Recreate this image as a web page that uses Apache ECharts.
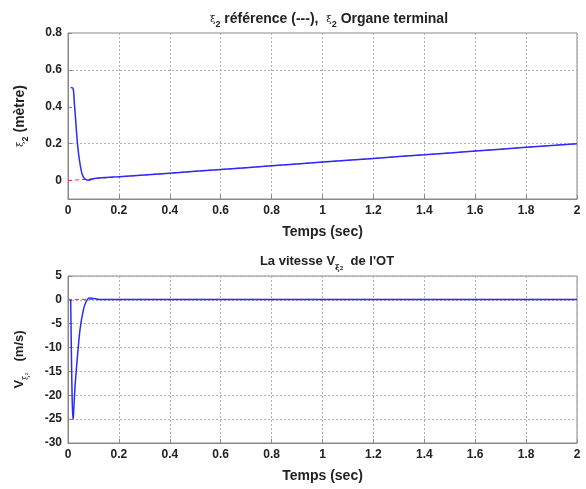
<!DOCTYPE html>
<html>
<head>
<meta charset="utf-8">
<script src="https://cdn.jsdelivr.net/npm/echarts@6/dist/echarts.min.js"></script>
<style>
  html, body { margin: 0; padding: 0; background: #fff; }
  #chart { width: 586px; height: 489px; }
</style>
</head>
<body>
<div id="chart"></div>
<script>
// position xi2 : reference (dashed red) and end effector (blue)
var posRef = [[0, 0], [2, 0.2]]
var posOT = [
  [0.0106, 0.505], [0.02, 0.50], [0.025, 0.42], [0.03, 0.33], [0.037, 0.204],
  [0.045, 0.11], [0.054, 0.042], [0.062, 0.016], [0.071, 0.005], [0.08, 0.002],
  [0.09, 0.006], [0.1, 0.01], [0.12, 0.014], [0.15, 0.017], [0.2, 0.021],
  [0.4, 0.04], [0.6, 0.06], [0.8, 0.08], [1.0, 0.1], [1.2, 0.12],
  [1.4, 0.14], [1.6, 0.16], [1.8, 0.18], [2.0, 0.2]
]
var posTicks = [0, 0.2, 0.4, 0.6, 0.8]
// velocity V_xi2
var velRef = [[0, 0.1], [2, 0.1]]
var velOT = [
  [0.0106, 0], [0.013, -10], [0.016, -20], [0.019, -25], [0.021, -24.6],
  [0.0275, -18.2], [0.037, -11.9], [0.047, -6.3], [0.06, -2.2], [0.071, -0.4],
  [0.084, 0.4], [0.1, 0.3], [0.12, 0.1], [0.2, 0.1], [2.0, 0.1]
]
var xTicks = { min: 0, max: 2, interval: 0.2 }

var font = 'Liberation Sans, Arial, sans-serif'
var gridColor = '#b0b0b0'
var txt = '#222'
var rich = {
  xi: { fontFamily: 'DejaVu Serif', fontSize: 10, fontWeight: 'normal', color: txt },
  sub: { fontSize: 9, fontWeight: 'bold', color: txt, padding: [11, 0, 0, 0] },
  b: { fontSize: 14, fontWeight: 'bold', color: txt, fontFamily: font }
}
var richV = {
  b: { fontSize: 13, fontWeight: 'bold', color: txt, fontFamily: font },
  sub: { fontFamily: 'DejaVu Serif', fontSize: 8, color: txt, padding: [14, 0, 0, 0] }
}

function xAxis(gridIndex) {
  return {
    type: 'value',
    gridIndex: gridIndex,
    min: xTicks.min,
    max: xTicks.max,
    interval: xTicks.interval,
    name: 'Temps (sec)',
    nameLocation: 'middle',
    nameGap: 26,
    nameTextStyle: { fontFamily: font, fontSize: 14, fontWeight: 'bold', color: txt },
    axisLine: { show: true, onZero: false, lineStyle: { color: '#888' } },
    axisTick: { show: true, inside: true, length: 4, lineStyle: { color: '#888' } },
    axisLabel: { fontFamily: font, fontSize: 12, fontWeight: 'bold', color: txt, margin: 6 },
    splitLine: { show: true, lineStyle: { color: gridColor, type: [2, 2], width: 1 } }
  }
}

var chart = echarts.init(document.getElementById('chart'))
chart.setOption({
  animation: false,
  backgroundColor: '#fff',
  title: [
    {
      text: '{xi|ξ}{sub|2}{b| référence (---),  }{xi|ξ}{sub|2}{b| Organe terminal}',
      left: 324, top: 4, textAlign: 'center',
      textStyle: { rich: rich }
    },
    {
      text: '{b|La vitesse V}{sub|ξ₂}{b|  de l\'OT}',
      left: 322, top: 245, textAlign: 'center',
      textStyle: { rich: richV }
    }
  ],
  grid: [
    { left: 68, top: 33, width: 509, height: 166, show: true, borderColor: '#888', borderWidth: 1 },
    { left: 68, top: 276, width: 509, height: 167, show: true, borderColor: '#888', borderWidth: 1 }
  ],
  xAxis: [xAxis(0), xAxis(1)],
  yAxis: [
    {
      type: 'value', gridIndex: 0, min: -0.1, max: 0.8, interval: 0.1,
      name: '{xi|ξ}{sub|2}{b| (mètre)}',
      nameLocation: 'middle', nameGap: 38, nameRotate: 90,
      nameTextStyle: { rich: rich },
      axisLine: { show: true, onZero: false, lineStyle: { color: '#888' } },
      axisTick: { show: true, inside: true, length: 4, customValues: posTicks, lineStyle: { color: '#888' } },
      axisLabel: {
        fontFamily: font, fontSize: 12, fontWeight: 'bold', color: txt, margin: 6,
        formatter: function(v) {
          var k = Math.round(v * 10)
          return k >= 0 && k % 2 === 0 ? String(k / 10) : ''
        }
      },
      splitLine: { show: true, lineStyle: { color: ['transparent', gridColor], type: [2, 2], width: 1 } }
    },
    {
      type: 'value', gridIndex: 1, min: -30, max: 5, interval: 5,
      name: '{b|V}{sub|ξ₂}{b|   (m/s)}',
      nameLocation: 'middle', nameGap: 38, nameRotate: 90,
      nameTextStyle: { rich: richV },
      axisLine: { show: true, onZero: false, lineStyle: { color: '#888' } },
      axisTick: { show: true, inside: true, length: 4, lineStyle: { color: '#888' } },
      axisLabel: { fontFamily: font, fontSize: 12, fontWeight: 'bold', color: txt, margin: 6 },
      splitLine: { show: true, lineStyle: { color: gridColor, type: [2, 2], width: 1 } }
    }
  ],
  series: [
    {
      type: 'line', xAxisIndex: 0, yAxisIndex: 0, data: posRef, symbol: 'none',
      lineStyle: { color: '#ff3030', width: 1, type: [4, 3] }
    },
    {
      type: 'line', xAxisIndex: 0, yAxisIndex: 0, data: posOT, symbol: 'none', smooth: 0.3,
      lineStyle: { color: '#2a2aff', width: 1.5 }
    },
    {
      type: 'line', xAxisIndex: 1, yAxisIndex: 1, data: velRef, symbol: 'none',
      lineStyle: { color: '#ff3030', width: 1, type: [4, 3] }
    },
    {
      type: 'line', xAxisIndex: 1, yAxisIndex: 1, data: velOT, symbol: 'none', smooth: 0.2,
      lineStyle: { color: '#2a2aff', width: 1.5 }
    }
  ]
})
</script>
</body>
</html>
